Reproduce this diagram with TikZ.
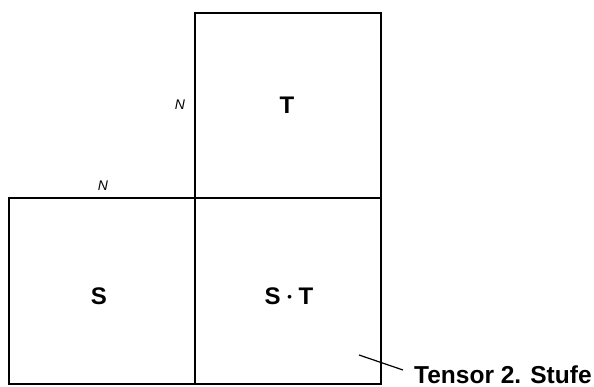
\documentclass[tikz,border=0pt]{standalone}
\usepackage{fontspec}
\setmainfont{Liberation Sans}
\begin{document}
\begin{tikzpicture}[x=1pt,y=-1pt,
  cell/.style={draw=black,line width=1.5pt},
  biglabel/.style={font=\fontsize{24}{28}\selectfont\bfseries,inner sep=0pt},
  dimlabel/.style={font=\fontsize{14}{16}\selectfont\itshape,inner sep=0pt}]
\useasboundingbox (0,0) rectangle (594,387);
% three square blocks
\draw[cell] (195,13) rectangle (381,198);
\draw[cell] (9,198) rectangle (195,384);
\draw[cell] (195,198) rectangle (381,384);
% end points of the leader line
\coordinate (la) at (359,355);
\coordinate (lb) at (403,370);
% block labels
\node[biglabel] (t) at (287,105) {T};
\node[biglabel] (s) at (99,296) {S};
\node[biglabel] (st) at (289,296) {S \raisebox{0.22ex}{\fontsize{13}{14}\selectfont•} T};
% dimension labels
\node[dimlabel] (n1) at (180,105) {N};
\node[dimlabel] (n2) at (103,186) {N};
% annotation
\node[biglabel,anchor=base west,font=\fontsize{24.5}{28}\selectfont\bfseries] (ann) at (414,383) {Tensor 2. Stufe};
\draw[line width=1.2pt] (la) -- (lb);
\end{tikzpicture}
\end{document}
